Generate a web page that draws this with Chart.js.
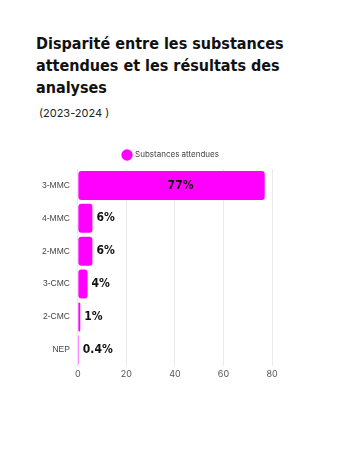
<!DOCTYPE html>
<html>
<head>
<meta charset="utf-8">
<script src="https://cdn.jsdelivr.net/npm/chart.js@4"></script>
<style>
  body { margin: 0; background: #fff; width: 360px; height: 450px; overflow: hidden; }
  .title { position: absolute; left: 36px; top: 33px; font-family: 'DejaVu Sans Condensed', 'DejaVu Sans', sans-serif; font-weight: bold; font-size: 16px; line-height: 22px; color: #111; }
  .sub { position: absolute; left: 39px; top: 106px; font-family: Inter, sans-serif; font-size: 11px; color: #222; }
  .wrap { position: absolute; left: 0; top: 143px; width: 344px; height: 240px; }
</style>
</head>
<body>
<div class="title">Disparité entre les substances<br>attendues et les résultats des<br>analyses</div>
<div class="sub">(2023-2024 )</div>
<div class="wrap"><canvas id="chart"></canvas></div>
<script>
const categories = ['3-MMC', '4-MMC', '2-MMC', '3-CMC', '2-CMC', 'NEP'];
const values = [77, 6, 6, 4, 1, 0.4];
const valueLabels = ['77%', '6%', '6%', '4%', '1%', '0.4%'];

document.addEventListener('DOMContentLoaded', () => {
  Chart.defaults.font.family = "Inter, sans-serif";
  Chart.defaults.font.size = 8;
  Chart.defaults.color = '#555';

  const barLabels = {
    id: 'barLabels',
    afterDatasetsDraw(chart) {
      const ctx = chart.ctx;
      const meta = chart.getDatasetMeta(0);
      ctx.save();
      ctx.font = "bold 12px 'DejaVu Sans Condensed', 'DejaVu Sans', sans-serif";
      ctx.fillStyle = '#111';
      ctx.textBaseline = 'middle';
      meta.data.forEach((bar, i) => {
        const w = bar.x - bar.base;
        if (w > 60) {
          ctx.textAlign = 'center';
          ctx.fillText(valueLabels[i], bar.base + w / 2 + 9, bar.y);
        } else {
          ctx.textAlign = 'left';
          ctx.fillText(valueLabels[i], bar.x + 4, bar.y);
        }
      });
      ctx.restore();
    }
  };

  // nudge the legend so it sits over the plot rather than the whole box
  const legendShift = {
    id: 'legendShift',
    afterLayout(chart) {
      chart.legend.left += 14;
      chart.legend.right += 14;
    }
  };

  new Chart(document.getElementById('chart'), {
    type: 'bar',
    data: {
      labels: categories,
      datasets: [{
        label: 'Substances attendues',
        data: values,
        backgroundColor: '#ff00ff',
        borderRadius: 3,
        borderSkipped: false,
        categoryPercentage: 0.9,
        barPercentage: 0.98,
      }]
    },
    options: {
      indexAxis: 'y',
      responsive: true,
      maintainAspectRatio: false,
      animation: false,
      layout: { padding: { left: 42, right: 72 } },
      plugins: {
        legend: {
          labels: { usePointStyle: true, pointStyle: 'circle', boxWidth: 8, boxHeight: 8, padding: 8, color: '#444', font: { size: 8 } }
        },
        tooltip: { enabled: false }
      },
      scales: {
        x: {
          min: 0, max: 80,
          ticks: { stepSize: 20, color: '#555', font: { size: 9 }, padding: 3 },
          grid: { color: '#eaeaea', drawTicks: false },
          border: { display: false }
        },
        y: {
          grid: { display: false },
          border: { display: false },
          ticks: { color: '#444', padding: 0, font: { family: "'Liberation Sans', Arial, sans-serif", size: 8.5 } }
        }
      }
    },
    plugins: [barLabels, legendShift]
  });
});
</script>
</body>
</html>
